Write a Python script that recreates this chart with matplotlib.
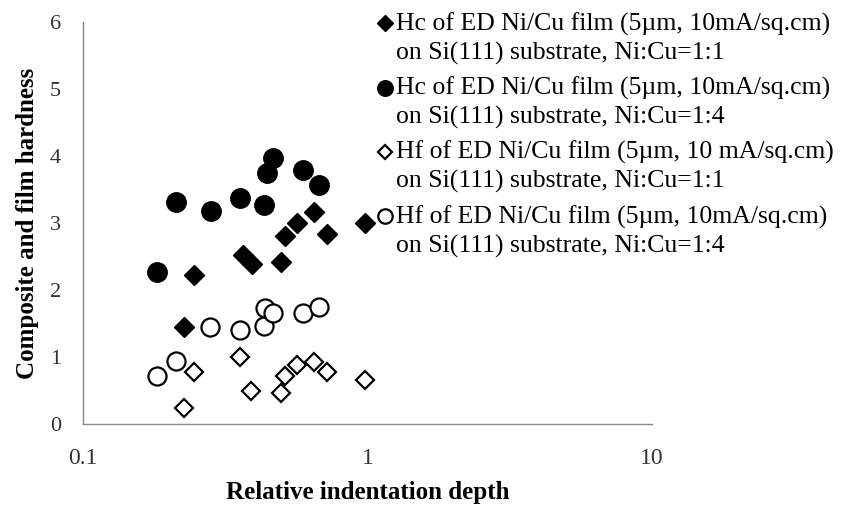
import matplotlib
matplotlib.use("Agg")
import matplotlib.pyplot as plt
from matplotlib.legend_handler import HandlerLine2D

plt.rcParams['font.family'] = ['Liberation Serif', 'DejaVu Serif']

# Hc of ED Ni/Cu film, Ni:Cu = 1:1 (filled diamonds)
hc11_x = [0.226, 0.245, 0.364, 0.392, 0.497, 0.514, 0.567, 0.649, 0.718, 0.977]
hc11_y = [1.45, 2.22, 2.52, 2.39, 2.42, 2.81, 3.00, 3.17, 2.84, 3.00]

# Hc of ED Ni/Cu film, Ni:Cu = 1:4 (filled circles)
hc14_x = [0.182, 0.213, 0.281, 0.355, 0.434, 0.442, 0.467, 0.595, 0.675]
hc14_y = [2.27, 3.32, 3.18, 3.37, 3.27, 3.74, 3.97, 3.79, 3.57]

# Hf of ED Ni/Cu film, Ni:Cu = 1:1 (open diamonds)
hf11_x = [0.226, 0.245, 0.357, 0.390, 0.497, 0.514, 0.567, 0.649, 0.718, 0.977]
hf11_y = [0.24, 0.78, 1.00, 0.50, 0.47, 0.71, 0.88, 0.92, 0.78, 0.66]

# Hf of ED Ni/Cu film, Ni:Cu = 1:4 (open circles)
hf14_x = [0.182, 0.213, 0.279, 0.355, 0.434, 0.438, 0.464, 0.594, 0.675]
hf14_y = [0.71, 0.94, 1.45, 1.40, 1.47, 1.73, 1.66, 1.65, 1.75]

labels = [
    "Hc of ED Ni/Cu film (5\u00b5m, 10mA/sq.cm)\non Si(111) substrate, Ni:Cu=1:1",
    "Hc of ED Ni/Cu film (5\u00b5m, 10mA/sq.cm)\non Si(111) substrate, Ni:Cu=1:4",
    "Hf of ED Ni/Cu film (5\u00b5m, 10 mA/sq.cm)\non Si(111) substrate, Ni:Cu=1:1",
    "Hf of ED Ni/Cu film (5\u00b5m, 10mA/sq.cm)\non Si(111) substrate, Ni:Cu=1:4",
]
xticks = [0.1, 1, 10]
xticklabels = ["0.1", "1", "10"]
yticks = [0, 1, 2, 3, 4, 5, 6]


class FirstLineHandler(HandlerLine2D):
    """Place the legend marker beside the first line of a two-line label."""
    def __init__(self, shift, **kw):
        super().__init__(**kw)
        self.shift = shift

    def create_artists(self, legend, orig_handle, xdescent, ydescent,
                       width, height, fontsize, trans):
        arts = super().create_artists(legend, orig_handle, xdescent, ydescent,
                                      width, height, fontsize, trans)
        for a in arts:
            yd = a.get_ydata()
            a.set_ydata([y + self.shift for y in yd])
        return arts


fig = plt.figure(figsize=(8.42, 5.11), dpi=100)
ax = fig.add_axes([83 / 842, 87 / 511, 569 / 842, 402 / 511])

h1, = ax.plot(hc11_x, hc11_y, linestyle='none', marker='D', markersize=10,
              color='black', label=labels[0])
h2, = ax.plot(hc14_x, hc14_y, linestyle='none', marker='o', markersize=14,
              color='black', label=labels[1])
h3, = ax.plot(hf11_x, hf11_y, linestyle='none', marker='D', markersize=9,
              markerfacecolor='white', markeredgecolor='black', markeredgewidth=1.6,
              label=labels[2])
h4, = ax.plot(hf14_x, hf14_y, linestyle='none', marker='o', markersize=13,
              markerfacecolor='white', markeredgecolor='black', markeredgewidth=1.6,
              label=labels[3])

ax.set_xscale('log')
ax.set_xlim(0.1, 10)
ax.set_ylim(0, 6)
ax.set_xticks(xticks)
ax.set_xticklabels(xticklabels)
ax.xaxis.set_minor_locator(matplotlib.ticker.NullLocator())
ax.set_yticks(yticks)
ax.tick_params(length=0, colors='#333333')
ax.tick_params(axis='x', labelsize=17, pad=17)
ax.tick_params(axis='y', labelsize=16, pad=16)
for s in ['top', 'right']:
    ax.spines[s].set_visible(False)
for s in ['left', 'bottom']:
    ax.spines[s].set_color('#888888')
    ax.spines[s].set_linewidth(1.0)

ax.set_xlabel("Relative indentation depth", fontsize=18, fontweight='bold', labelpad=9)
ax.set_ylabel("Composite and film hardness", fontsize=18, fontweight='bold', labelpad=8)

shift = 10.5
hmap = {h: FirstLineHandler(shift) for h in (h1, h2, h3, h4)}
leg = ax.legend(handles=[h1, h2, h3, h4],
                loc='upper left', bbox_to_anchor=(0.437, 0.996),
                bbox_transform=fig.transFigure, frameon=False,
                fontsize=18.5, markerscale=0.8, handlelength=0.5,
                handletextpad=0.2, labelspacing=0.46, borderaxespad=0,
                handler_map=hmap)
for t in leg.get_texts():
    t.set_linespacing(1.34)

fig.savefig("out.png", dpi=100, facecolor='white')
